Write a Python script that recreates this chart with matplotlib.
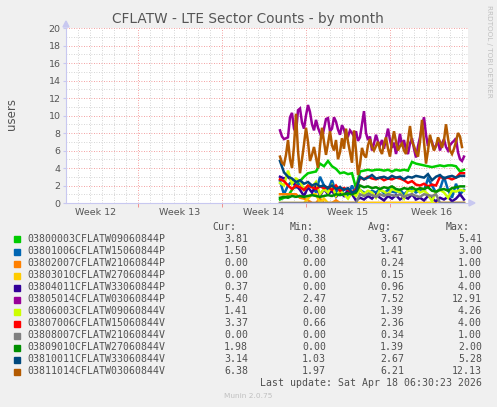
import numpy as np
import matplotlib
matplotlib.use("Agg")
import matplotlib.pyplot as plt
from matplotlib.patches import Rectangle, Polygon

# sample times: days since start of week 12, one point every 8 hours
# (the two busy series are read at twice that rate)
t0 = 18.833
step = 1.0 / 3.0
step_fine = 1.0 / 6.0

names = ["03800003CFLATW09060844P", "03801006CFLATW15060844P", "03802007CFLATW21060844P",
         "03803010CFLATW27060844P", "03804011CFLATW33060844P", "03805014CFLATW03060844P",
         "03806003CFLATW09060844V", "03807006CFLATW15060844V", "03808007CFLATW21060844V",
         "03809010CFLATW27060844V", "03810011CFLATW33060844V", "03811014CFLATW03060844V"]
colors = ["#00CC00", "#0066B3", "#FF8000", "#FFCC00", "#330099", "#990099",
          "#CCFF00", "#FF0000", "#808080", "#008F00", "#00487D", "#B35A00"]
cur = ["3.81", "1.50", "0.00", "0.00", "0.37", "5.40", "1.41", "3.37", "0.00", "1.98", "3.14", "6.38"]
vmin = ["0.38", "0.00", "0.00", "0.00", "0.00", "2.47", "0.00", "0.66", "0.00", "0.00", "1.03", "1.97"]
vavg = ["3.67", "1.41", "0.24", "0.15", "0.96", "7.52", "1.39", "2.36", "0.34", "1.39", "2.67", "6.21"]
vmax = ["5.41", "3.00", "1.00", "1.00", "4.00", "12.91", "4.26", "4.00", "1.00", "2.00", "5.28", "12.13"]

s00 = [0.4, 0.6, 0.8, 1.5, 2.0, 2.5, 3.0, 3.4, 3.5, 3.6, 4.5, 4.2, 4.8, 4.2, 3.9, 3.4,
       3.5, 3.3, 3.4, 1.7, 3.6, 3.7, 3.8, 3.7, 3.8, 3.8, 3.7, 3.8, 3.6, 3.8, 3.7, 3.8,
       3.7, 4.7, 4.5, 4.4, 4.3, 4.2, 4.1, 4.2, 4.3, 4.2, 4.3, 4.3, 4.2, 3.6, 3.8]
s01 = [2.5, 1.0, 2.0, 2.5, 1.8, 2.3, 1.5, 1.8, 2.0, 1.2, 3.0, 2.0, 1.5, 2.6, 1.2, 1.8,
       1.0, 0.8, 2.0, 1.0, 1.5, 1.2, 1.0, 1.4, 1.2, 1.6, 1.1, 1.5, 1.3, 1.2, 1.5, 1.0,
       1.4, 1.6, 1.2, 1.5, 1.4, 2.8, 2.0, 1.2, 1.6, 3.0, 1.5, 0.6, 2.2, 1.0, 1.5]
s02 = [1.0, 1.0, 1.0, 1.0, 1.0, 0.6, 0.5, 0.3, 0.0, 0.0, 0.5, 0.0, 0.0, 0.0, 0.3, 0.0,
       0.0, 0.0, 0.0, 0.0, 0.0, 0.0, 0.0, 0.0, 0.0, 0.0, 0.0, 0.0, 0.0, 0.0, 0.0, 0.0,
       0.0, 0.0, 0.0, 0.0, 0.0, 0.0, 0.0, 0.0, 0.0, 0.0, 0.0, 0.0, 0.0, 0.0, 0.0]
s03 = [0.0, 0.0, 0.0, 0.0, 0.0, 0.0, 0.0, 0.5, 1.0, 1.0, 0.0, 0.5, 0.0, 0.0, 0.0, 0.0,
       0.0, 0.0, 0.0, 0.0, 0.0, 0.0, 0.0, 0.0, 0.0, 0.0, 0.0, 0.0, 0.0, 0.0, 0.0, 0.0,
       0.0, 0.0, 0.0, 0.0, 0.0, 0.0, 0.0, 0.0, 0.0, 0.0, 0.0, 0.0, 0.0, 0.0, 0.0]
s04 = [3.0, 2.8, 3.0, 2.5, 2.0, 1.5, 0.8, 1.8, 1.2, 2.0, 0.8, 1.6, 1.0, 1.4, 0.7, 1.2,
       0.8, 1.5, 1.0, 0.3, 0.6, 0.4, 0.8, 0.5, 1.0, 0.6, 0.3, 0.8, 0.5, 0.9, 0.4, 0.7,
       0.5, 1.0, 0.4, 0.6, 0.3, 0.8, 0.5, 0.2, 0.6, 0.4, 0.7, 0.2, 0.5, 1.0, 0.4]
s05 = [8.3, 7.6, 7.3, 7.4, 7.5, 9.8, 10.3, 8.5, 8.0, 10.6, 10.8, 9.2, 8.5, 10.0, 11.2, 10.4,
       9.0, 8.3, 9.5, 8.6, 8.0, 7.4, 8.5, 9.6, 9.7, 8.2, 8.5, 9.8, 9.3, 8.4, 7.8, 8.9,
       8.4, 7.5, 7.6, 8.3, 8.0, 7.6, 8.2, 7.1, 7.5, 9.0, 10.5, 8.0, 7.2, 7.6, 6.0, 6.8,
       7.8, 7.0, 6.6, 7.2, 6.2, 7.4, 8.5, 7.2, 6.3, 6.9, 5.6, 6.6, 7.9, 6.5, 7.2, 6.0,
       5.6, 6.8, 7.4, 6.2, 5.2, 6.5, 7.5, 8.8, 9.8, 7.8, 6.5, 7.4, 7.0, 6.1, 6.6, 7.0,
       6.0, 6.8, 7.3, 6.4, 6.0, 6.6, 6.9, 7.1, 7.4, 5.8, 5.0, 4.8, 5.3]
s06 = [2.3, 2.0, 3.7, 2.2, 2.8, 2.5, 1.5, 2.0, 1.8, 2.4, 1.0, 1.6, 1.2, 2.0, 0.8, 1.4,
       1.0, 0.5, 1.2, 0.8, 1.5, 1.0, 1.4, 1.2, 0.6, 1.5, 1.3, 1.0, 1.6, 1.4, 1.2, 0.5,
       1.5, 1.3, 1.6, 1.2, 1.4, 1.0, 0.2, 1.3, 1.5, 1.2, 0.6, 1.4, 1.3, 1.5, 1.4]
s07 = [2.7, 2.5, 2.0, 1.6, 2.0, 1.8, 1.5, 2.0, 1.8, 1.6, 1.9, 1.7, 1.8, 1.5, 2.0, 1.4,
       1.7, 1.5, 1.2, 1.6, 2.9, 2.7, 3.0, 2.8, 2.7, 2.9, 2.6, 2.8, 2.7, 2.9, 2.8, 2.6,
       2.3, 2.5, 2.1, 2.0, 2.2, 1.9, 2.1, 2.0, 3.0, 2.8, 2.9, 2.7, 2.9, 3.4, 3.4]
s08 = [0.0, 0.0, 0.0, 0.0, 0.0, 0.0, 0.0, 0.0, 0.0, 0.0, 0.0, 0.0, 0.0, 0.0, 0.0, 0.0,
       0.0, 0.0, 0.0, 0.0, 1.0, 0.8, 1.0, 0.9, 0.7, 1.0, 0.8, 1.0, 0.9, 0.8, 1.0, 0.7,
       0.9, 1.0, 0.8, 0.7, 1.0, 0.9, 0.8, 1.0, 0.0, 0.0, 0.0, 0.0, 0.0, 0.0, 0.0]
s09 = [0.6, 0.7, 0.6, 0.8, 0.7, 0.8, 0.7, 0.8, 0.9, 0.8, 0.7, 0.8, 0.9, 0.8, 1.0, 0.9,
       1.0, 1.1, 1.0, 1.2, 2.0, 1.8, 1.9, 1.7, 1.8, 1.6, 1.8, 1.7, 1.9, 1.6, 1.5, 1.7,
       1.6, 1.8, 1.5, 1.7, 1.6, 1.8, 1.4, 1.3, 1.5, 1.6, 1.4, 1.7, 1.8, 1.9, 1.9]
s10 = [4.8, 3.5, 3.0, 2.8, 2.4, 2.6, 2.2, 2.4, 2.0, 2.2, 1.9, 2.0, 1.7, 2.0, 1.6, 1.8,
       1.5, 1.7, 1.2, 1.4, 3.0, 2.7, 2.9, 3.2, 2.8, 2.9, 3.0, 2.8, 3.1, 2.9, 3.0, 2.7,
       3.0, 2.9, 3.1, 3.0, 2.9, 3.3, 2.6, 3.0, 3.2, 2.8, 3.0, 3.1, 2.9, 3.1, 3.1]
s11 = [5.3, 4.6, 4.4, 5.5, 7.2, 5.0, 4.0, 6.5, 10.2, 6.0, 3.4, 5.0, 6.7, 8.6, 7.0, 4.8,
       5.5, 6.4, 5.2, 4.0, 6.5, 8.6, 7.0, 5.5, 6.8, 8.2, 6.6, 6.0, 7.2, 5.0, 5.8, 7.4,
       6.2, 8.5, 7.0, 5.8, 4.6, 8.3, 6.0, 3.2, 4.4, 6.3, 5.5, 5.2, 6.6, 7.3, 6.4, 6.0,
       6.5, 7.0, 6.1, 5.6, 6.8, 7.5, 6.2, 5.3, 7.0, 8.2, 7.0, 6.0, 6.5, 6.8, 6.0, 5.6,
       7.2, 8.8, 7.0, 6.5, 5.8, 5.3, 7.0, 9.5, 7.0, 4.5, 6.0, 7.8, 6.8, 6.0, 6.5, 7.5,
       7.0, 6.3, 7.2, 9.0, 7.4, 6.0, 5.6, 6.2, 7.0, 8.0, 7.6, 6.4]
series = [s00, s01, s02, s03, s04, s05, s06, s07, s08, s09, s10, s11]

W, H = 497, 407
fig = plt.figure(figsize=(W / 100, H / 100), dpi=100, facecolor="#F0F0F0")
ax = fig.add_axes([66 / W, 1 - 203 / H, (468 - 66) / W, (203 - 28) / H])
ax.set_facecolor("white")

ax.set_xlim(1, 34.5)
ax.set_ylim(0, 20)

# grid: grey dotted every day / every unit, red dotted every week / 2 units
for d in range(2, 35):
    if d % 7:
        ax.axvline(d, color="#C8C8C8", lw=0.6, ls=(0, (1, 2)), zorder=0)
for d in (7, 14, 21, 28):
    ax.axvline(d, color="#F08080", lw=0.6, ls=(0, (1, 2)), zorder=0)
for v in range(1, 21, 2):
    ax.axhline(v, color="#C8C8C8", lw=0.6, ls=(0, (1, 2)), zorder=0)
for v in range(2, 21, 2):
    ax.axhline(v, color="#F08080", lw=0.6, ls=(0, (1, 2)), zorder=0)

for vals, c in zip(series, colors):
    st = step if len(vals) < 60 else step_fine
    t = t0 + st * np.arange(len(vals))
    ax.plot(t, vals, color=c, lw=1.8, solid_joinstyle="miter", zorder=2)

for sp in ("top", "right"):
    ax.spines[sp].set_visible(False)
for sp in ("left", "bottom"):
    ax.spines[sp].set_color("#C8C8F0")
    ax.spines[sp].set_linewidth(0.8)

ax.set_yticks(range(0, 21, 2))
ax.set_xticks([7, 14, 21, 28])
ax.set_xticklabels([])
ax.tick_params(axis="x", length=3, color="#F08080", width=0.6)
ax.tick_params(axis="y", length=2, color="#C8C8F0", labelsize=6.8, labelcolor="#555555", pad=2)
weeks = ["Week 12", "Week 13", "Week 14", "Week 15", "Week 16"]
for i, w in enumerate(weeks):
    ax.text(3.5 + 7 * i, -0.55, w, ha="center", va="top", fontsize=6.8, color="#555555")

# arrows at axis ends
fig.patches.append(Polygon([[63 / W, 1 - 27 / H], [69 / W, 1 - 27 / H], [66 / W, 1 - 21 / H]],
                           closed=True, transform=fig.transFigure, color="#C8C8F0"))
fig.patches.append(Polygon([[469 / W, 1 - 200 / H], [469 / W, 1 - 206 / H], [475 / W, 1 - 203 / H]],
                           closed=True, transform=fig.transFigure, color="#C8C8F0"))

fig.text(248 / W, 1 - 19 / H, "CFLATW - LTE Sector Counts - by month", ha="center", va="center",
         fontsize=9.8, color="#555555")
fig.text(11 / W, 1 - 114 / H, "users", rotation=90, ha="center", va="center", fontsize=8.5, color="#555555")
fig.text(489 / W, 1 - 5 / H, "RRDTOOL / TOBI OETIKER", rotation=270, ha="center", va="top",
         fontsize=5.2, color="#C0C0C0")

mono = "DejaVu Sans Mono"
fs = 7.1
tc = "#505050"
hy = 1 - 227 / H
for txt, xr in (("Cur:", 236), ("Min:", 314), ("Avg:", 392), ("Max:", 470)):
    fig.text(xr / W, hy, txt, ha="right", va="center", family=mono, fontsize=fs, color=tc)
for i in range(len(names)):
    y = 239.5 + 12 * i
    fig.patches.append(Rectangle((14 / W, 1 - (y + 3) / H), 6 / W, 6 / H,
                                 transform=fig.transFigure, color=colors[i]))
    fig.text(27 / W, 1 - y / H, names[i], ha="left", va="center", family=mono, fontsize=fs, color=tc)
    for val, xr in ((cur[i], 248), (vmin[i], 326), (vavg[i], 404), (vmax[i], 482)):
        fig.text(xr / W, 1 - y / H, val, ha="right", va="center", family=mono, fontsize=fs, color=tc)
fig.text(482 / W, 1 - 383 / H, "Last update: Sat Apr 18 06:30:23 2026", ha="right", va="center",
         family=mono, fontsize=fs, color=tc)
fig.text(248 / W, 1 - 396 / H, "Munin 2.0.75", ha="center", va="center", fontsize=5.3, color="#C0C0C0")

fig.savefig("out.png", dpi=100, facecolor=fig.get_facecolor())
